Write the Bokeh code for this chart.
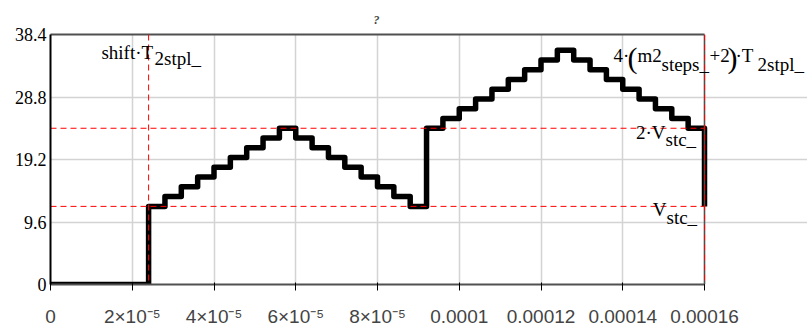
from bokeh.plotting import figure
from bokeh.models import Range1d, FixedTicker, Span, Label, LinearAxis
from bokeh.embed import file_html
from bokeh.resources import INLINE

# ---- data ----
t_sec = [0, 2.4e-5, 2.8e-5, 3.2e-5, 3.6e-5, 4.0e-5, 4.4e-5, 4.8e-5, 5.2e-5, 5.6e-5,
         6.0e-5, 6.4e-5, 6.8e-5, 7.2e-5, 7.6e-5, 8.0e-5, 8.4e-5, 8.8e-5,
         9.2e-5, 9.6e-5, 1.0e-4, 1.04e-4, 1.08e-4, 1.12e-4, 1.16e-4, 1.2e-4, 1.24e-4,
         1.28e-4, 1.32e-4, 1.36e-4, 1.4e-4, 1.44e-4, 1.48e-4, 1.52e-4, 1.56e-4,
         1.6e-4, 1.6e-4]
v_out = [0, 12, 13.5, 15, 16.5, 18, 19.5, 21, 22.5, 24,
         22.5, 21, 19.5, 18, 16.5, 15, 13.5, 12,
         24, 25.5, 27, 28.5, 30, 31.5, 33, 34.5, 36,
         34.5, 33, 31.5, 30, 28.5, 27, 25.5, 24,
         24, 12]

x_ticks = [0, 2e-5, 4e-5, 6e-5, 8e-5, 1e-4, 1.2e-4, 1.4e-4, 1.6e-4]
x_tick_labels = ["0", "2×10⁻⁵", "4×10⁻⁵", "6×10⁻⁵", "8×10⁻⁵",
                 "0.0001", "0.00012", "0.00014", "0.00016"]
y_ticks = [0, 9.6, 19.2, 28.8, 38.4]
y_tick_labels = ["0", "9.6", "19.2", "28.8", "38.4"]

v_markers = [12, 24]            # V_stc_, 2·V_stc_
t_markers = [2.4e-5, 1.6e-4]    # shift·T_2stpl_, 4·(m2_steps_+2)·T_2stpl_

SERIF = "Liberation Serif"

# ---- layout (pixels) ----
W, H = 807, 329
LEFT, TOP, BOTTOM = 50, 34, 43
PLOT_W = 654                    # pixels between x = 0 and x = 0.00016
x0, x1 = x_ticks[0], x_ticks[-1]
# the frame runs on to the right edge so that the right-hand labels are not clipped
x_end = x0 + (x1 - x0) * (W - LEFT) / PLOT_W

p = figure(width=W, height=H,
           x_range=Range1d(x0, x_end),
           y_range=Range1d(y_ticks[0], y_ticks[-1]),
           output_backend="svg", toolbar_location=None,
           min_border_left=LEFT, min_border_right=0,
           min_border_top=TOP, min_border_bottom=BOTTOM)
p.background_fill_color = "white"
p.border_fill_color = "white"
p.outline_line_color = None

# title "?" centred over the 0 .. 0.00016 span
p.title.text = "?"
p.title.align = "left"
p.title.offset = PLOT_W / 2 - 4
p.title.text_font = SERIF
p.title.text_font_size = "12px"
p.title.text_font_style = "bold italic"
p.title.vertical_align = "bottom"
p.title.standoff = 16

# axes
p.xaxis.ticker = FixedTicker(ticks=x_ticks)
p.xaxis.major_label_overrides = dict(zip(x_ticks, x_tick_labels))
p.xaxis.bounds = (x0, x1)
p.yaxis.ticker = FixedTicker(ticks=y_ticks)
p.yaxis.major_label_overrides = dict(zip(y_ticks, y_tick_labels))
# top border of the plot area
top_axis = LinearAxis(ticker=FixedTicker(ticks=[]), bounds=(x0, x1),
                      axis_line_color="#303030", axis_line_width=2)
p.add_layout(top_axis, "above")
for ax in (p.xaxis[0], p.yaxis[0], top_axis):
    ax.major_tick_line_color = None
    ax.minor_tick_line_color = None
    ax.major_tick_out = 0
    ax.major_tick_in = 0
    ax.minor_tick_out = 0
    ax.minor_tick_in = 0
    ax.major_label_text_font = SERIF
    ax.major_label_text_color = "black"
p.xaxis.major_label_text_font_size = "19px"
p.xaxis.major_label_standoff = 15
p.xaxis.axis_line_color = "#505050"
p.xaxis.axis_line_width = 2
p.yaxis.major_label_text_font_size = "18px"
p.yaxis.major_label_standoff = 4
p.yaxis.axis_line_color = "black"
p.yaxis.axis_line_width = 2

p.grid.grid_line_color = "#d3d3d3"
p.grid.grid_line_width = 1.5
p.ygrid.bounds = (x0, x1)

# right border of the plot area
p.add_layout(Span(location=x1, dimension="height", line_color="#505050", line_width=1.5))

# waveform
p.step(x=t_sec, y=v_out, mode="after", line_color="black", line_width=5.5,
       line_join="round")

# marker lines
p.segment(x0=[x0] * len(v_markers), y0=v_markers, x1=[x1] * len(v_markers), y1=v_markers,
          line_color="#ff0000", line_dash="6 4", line_width=1)
for t in t_markers:
    p.add_layout(Span(location=t, dimension="height", line_color="#ff0000",
                      line_dash="6 4", line_width=1))


def piece(text, x, y, dx, dy, size="19px", align="left"):
    p.add_layout(Label(x=x, y=y, x_offset=dx, y_offset=dy, text=text,
                       text_font=SERIF, text_font_size=size, text_color="black",
                       text_align=align, text_baseline="alphabetic"))


y_top = y_ticks[-1]
# shift·T_2stpl_
piece("shift·T", t_markers[0], y_top, 4.5, -18, align="right")
piece("2stpl_", t_markers[0], y_top, 6, -24)
# 4·(m2_steps_ +2)·T_2stpl_
piece("4·", t_markers[1], y_top, -91, -21)
piece("(", t_markers[1], y_top, -77, -23, size="30px")
piece("m2", t_markers[1], y_top, -67, -21)
piece("steps_", t_markers[1], y_top, -43, -30)
piece("+2", t_markers[1], y_top, 5, -21)
piece(")", t_markers[1], y_top, 23, -23, size="30px")
piece("·T", t_markers[1], y_top, 31, -21)
piece("2stpl_", t_markers[1], y_top, 53, -30)
# 2·V_stc_
piece("2·V", t_markers[1], v_markers[1], -39, -4, align="right")
piece("stc_", t_markers[1], v_markers[1], -39, -11.5)
# V_stc_
piece("V", t_markers[1], v_markers[0], -38, -3, align="right")
piece("stc_", t_markers[1], v_markers[0], -38, -11)

open("out.html", "w").write(file_html(p, INLINE))
